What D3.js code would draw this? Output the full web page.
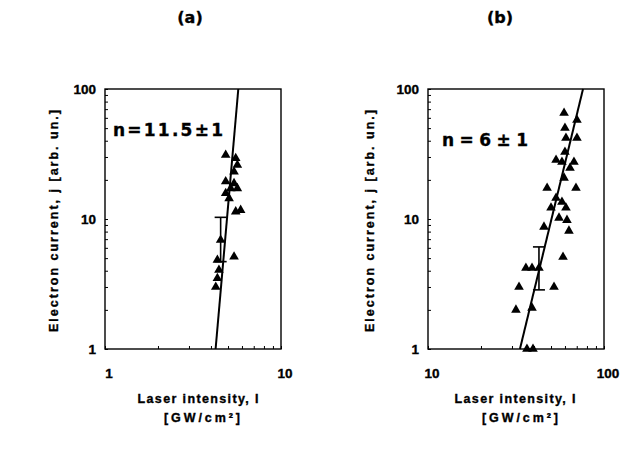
<!DOCTYPE html>
<html><head><meta charset="utf-8">
<script src="https://cdn.jsdelivr.net/npm/d3@7"></script>
<style>
body{margin:0;background:#fff}
svg{display:block}
text{font-family:"Liberation Sans",Arial,Helvetica,sans-serif;font-weight:bold;fill:#000;stroke:#000;stroke-width:0.35}
text.big{font-family:"DejaVu Sans","Liberation Sans",sans-serif}
</style>
</head><body>
<svg id="c" width="634" height="454"></svg>
<script>
// ---- data ----
const panelTitles = ["(a)", "(b)"];
const slopeLabels = ["n=11.5±1", "n=6±1"];
const xDomains = [[1, 10], [10, 100]];
const xTickLabels = [["1", "10"], ["10", "100"]];
const yDomain = [1, 100];
const yTickValues = [1, 10, 100];
const yTickLabels = ["1", "10", "100"];
const yTitle = "Electron current, j [arb. un.]";
const xTitle1 = "Laser intensity, I";
const xTitle2 = "[GW/cm²]";

// panel (a) measured points
const aIntensity = [4.85, 5.53, 5.65, 5.41, 4.85, 5.41, 5.18, 5.65, 4.85, 5.07, 5.90, 5.53, 4.54, 4.35, 5.41, 4.44, 4.35, 4.26];
const aCurrent   = [31.1, 29.3, 26.0, 23.1, 19.4, 18.8, 17.2, 17.2, 15.8, 14.4, 11.7, 11.4, 6.9, 4.84, 5.13, 4.05, 3.5, 3.0];
// panel (b) measured points
const bIntensity = [59.3, 70.2, 60.0, 60.8, 70.2, 60.0, 53.4, 57.7, 67.5, 64.1, 59.3, 47.5, 69.3, 53.4, 57.7, 50.0, 60.8, 55.5, 61.6, 63.2, 45.6, 58.5, 36.0, 39.0, 42.7, 32.9, 52.0, 31.6, 39.0, 36.5, 39.5];
const bCurrent   = [65.4, 57.8, 50.1, 42.0, 42.0, 32.8, 28.4, 27.4, 27.4, 24.7, 20.7, 17.3, 17.3, 14.5, 13.5, 12.2, 12.2, 10.2, 9.8, 8.1, 8.7, 5.1, 4.2, 4.2, 4.2, 3.0, 3.0, 2.0, 2.07, 1.0, 1.0];
// error bars (one per panel)
const errIntensity = [4.54, 42.7];
const errLow  = [4.7, 2.85];
const errHigh = [10.3, 6.1];
// fitted power-law lines (end points)
const fitIntensity = [[4.25, 5.72], [33.3, 76.0]];
const fitCurrent = [[1, 100], [1, 100]];

// ---- layout ----
const svg = d3.select("#c");
const panels = [
  {x0: 105, x1: 281, yTitleX: 58, titleX: 190, xt: 198, xt2: 202, lab: [113, 136], labLen: 110, I: aIntensity, J: aCurrent},
  {x0: 428, x1: 604, yTitleX: 374, titleX: 500, xt: 515, xt2: 520, lab: [442, 146], labLen: 86, I: bIntensity, J: bCurrent}
];
const yTop = 89, yBot = 349;

panels.forEach((p, k) => {
  const x = d3.scaleLog().domain(xDomains[k]).range([p.x0, p.x1]);
  const y = d3.scaleLog().domain(yDomain).range([yBot, yTop]);
  const g = svg.append("g");

  // frame
  g.append("rect").attr("x", p.x0).attr("y", yTop)
    .attr("width", p.x1 - p.x0).attr("height", yBot - yTop)
    .attr("fill", "none").attr("stroke", "#000").attr("stroke-width", 1.4);

  // inward minor/major ticks on left and bottom via axes
  const yAx = d3.axisRight(y).tickValues(d3.range(0, 2).flatMap(e => d3.range(1, 10).map(m => m * 10 ** e)).concat([100]))
    .tickSize(3).tickFormat("");
  g.append("g").attr("transform", `translate(${p.x0},0)`).call(yAx)
    .call(s => s.select(".domain").remove()).selectAll("line").attr("stroke-width", 1);
  const xb = xDomains[k][0];
  const xAx = d3.axisTop(x).tickValues(d3.range(1, 11).map(m => m * xb)).tickSize(3).tickFormat("");
  g.append("g").attr("transform", `translate(0,${yBot})`).call(xAx)
    .call(s => s.select(".domain").remove()).selectAll("line").attr("stroke-width", 1);

  // y tick labels
  g.selectAll("text.yl").data(yTickValues).join("text").attr("class", "yl")
    .attr("x", p.x0 - 9).attr("y", d => y(d) + 5)
    .attr("text-anchor", "end").attr("font-size", 13.5)
    .text((d, i) => yTickLabels[i]);

  // x tick labels
  g.selectAll("text.xl").data(xDomains[k]).join("text").attr("class", "xl")
    .attr("x", d => x(d) + 4).attr("y", 378)
    .attr("text-anchor", "middle").attr("font-size", 13.5)
    .text((d, i) => xTickLabels[k][i]);

  // titles
  g.append("text").attr("x", p.titleX).attr("y", 23).attr("text-anchor", "middle")
    .attr("class", "big").attr("font-size", 16).text(panelTitles[k]);
  g.append("text").attr("transform", `translate(${p.yTitleX},221) rotate(-90)`)
    .attr("text-anchor", "middle").attr("font-size", 12.5)
    .attr("textLength", 222).attr("lengthAdjust", "spacing").text(yTitle);
  g.append("text").attr("x", p.xt).attr("y", 403).attr("text-anchor", "middle")
    .attr("font-size", 12.5).attr("textLength", 121).attr("lengthAdjust", "spacing").text(xTitle1);
  g.append("text").attr("x", p.xt2).attr("y", 422).attr("text-anchor", "middle")
    .attr("font-size", 12.5).attr("textLength", 76).attr("lengthAdjust", "spacing").text(xTitle2);

  // slope label
  g.append("text").attr("class", "big").attr("x", p.lab[0]).attr("y", p.lab[1])
    .attr("font-size", 17).attr("textLength", p.labLen).attr("lengthAdjust", "spacing")
    .text(slopeLabels[k]);

  // fit line
  const line = d3.line().x(d => x(d[0])).y(d => y(d[1]));
  g.append("path").datum(d3.zip(fitIntensity[k], fitCurrent[k]))
    .attr("d", line).attr("fill", "none").attr("stroke", "#000").attr("stroke-width", 2);

  // error bar
  const ex = x(errIntensity[k]);
  const eb = g.append("g").attr("stroke", "#000").attr("stroke-width", 1.6);
  eb.append("line").attr("x1", ex).attr("x2", ex).attr("y1", y(errLow[k])).attr("y2", y(errHigh[k]));
  [errLow[k], errHigh[k]].forEach(v => {
    eb.append("line").attr("x1", ex - 6).attr("x2", ex + 6).attr("y1", y(v)).attr("y2", y(v));
  });

  // points
  const sym = d3.symbol().type(d3.symbolTriangle).size(40);
  g.selectAll("path.pt").data(d3.zip(p.I, p.J)).join("path").attr("class", "pt")
    .attr("transform", d => `translate(${x(d[0])},${y(d[1])})`)
    .attr("d", sym).attr("fill", "#000");
});
</script>
</body></html>
